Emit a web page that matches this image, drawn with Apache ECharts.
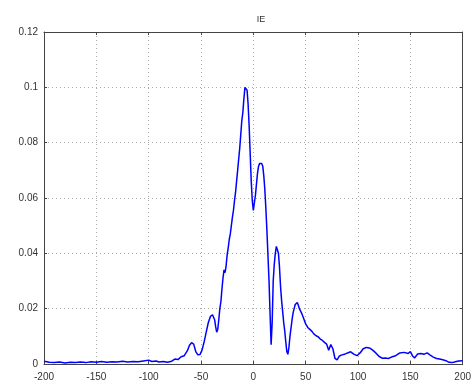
<!DOCTYPE html>
<html><head><meta charset="utf-8">
<script src="https://cdn.jsdelivr.net/npm/echarts@6/dist/echarts.min.js"></script>
<style>html,body{margin:0;padding:0;background:#fff}#c{width:474px;height:388px}</style>
</head><body><div id="c"></div>
<script>
const titleText = 'IE';
const xTicks = [-200, -150, -100, -50, 0, 50, 100, 150, 200];
const yTicks = [0, 0.02, 0.04, 0.06, 0.08, 0.1, 0.12];
const xs = [-200,-195,-190,-185,-180,-175,-170,-165,-160,-155,-150,-145,-140,-135,-130,-125,-120,-115,-110,-105,-100,-97,-93,-90,-86,-82,-78,-75,-72,-69,-66,-63,-61,-59,-57,-55,-53,-51,-49,-47,-45,-43,-41,-39,-37,-36,-35,-34,-33,-32,-31,-30,-29,-28,-27,-26,-25,-24,-23,-22,-21,-20,-19,-18,-17,-16,-15,-14,-13,-12,-11,-10,-9,-8,-7,-6,-5,-4,-3,-2,-1,0,1,2,3,4,5,6,7,8,9,10,11,12,13,14,15,16,17,18,19,20,21,22,23,24,25,26,27,28,29,30,31,32,33,34,35,36,37,38,39,40,41,42,43,44,46,48,50,52,54,56,58,60,62,64,66,68,70,72,74,76,78,80,82,84,87,90,93,96,99,102,105,108,111,114,117,120,123,126,129,132,136,140,144,148,150,152,154,157,160,163,166,169,172,175,178,181,184,187,190,193,196,200];
const ys = [0.0010,0.0006,0.0005,0.0007,0.0004,0.0006,0.0005,0.0007,0.0005,0.0008,0.0006,0.0009,0.0006,0.0008,0.0007,0.0010,0.0007,0.0009,0.0008,0.0011,0.0014,0.0009,0.0011,0.0007,0.0009,0.0006,0.0010,0.0018,0.0016,0.0026,0.0030,0.0048,0.0068,0.0077,0.0072,0.0045,0.0033,0.0034,0.0050,0.0080,0.0115,0.0150,0.0172,0.0178,0.0160,0.0135,0.0115,0.0125,0.0160,0.0200,0.0225,0.0270,0.0310,0.0340,0.0330,0.0355,0.0395,0.0420,0.0450,0.0470,0.0500,0.0530,0.0555,0.0590,0.0620,0.0660,0.0700,0.0740,0.0780,0.0830,0.0880,0.0910,0.0960,0.1000,0.1002,0.0990,0.0940,0.0860,0.0760,0.0660,0.0590,0.0555,0.0560,0.0610,0.0650,0.0690,0.0715,0.0725,0.0728,0.0725,0.0715,0.0680,0.0630,0.0560,0.0480,0.0390,0.0300,0.0180,0.0070,0.0150,0.0300,0.0360,0.0400,0.0425,0.0428,0.0400,0.0350,0.0280,0.0230,0.0190,0.0150,0.0120,0.0080,0.0045,0.0035,0.0060,0.0100,0.0130,0.0160,0.0185,0.0200,0.0215,0.0222,0.0222,0.0212,0.0200,0.0185,0.0165,0.0145,0.0132,0.0125,0.0118,0.0108,0.0102,0.0098,0.0090,0.0085,0.0078,0.0072,0.0050,0.0070,0.0055,0.0020,0.0015,0.0028,0.0032,0.0035,0.0040,0.0044,0.0036,0.0030,0.0040,0.0055,0.0060,0.0058,0.0050,0.0040,0.0028,0.0021,0.0022,0.0020,0.0025,0.0030,0.0040,0.0042,0.0038,0.0045,0.0030,0.0022,0.0036,0.0038,0.0035,0.0040,0.0032,0.0025,0.0020,0.0018,0.0015,0.0012,0.0006,0.0005,0.0008,0.0011,0.0012];

const chart = echarts.init(document.getElementById('c'), null, {renderer: 'canvas'});
const lbl = {fontFamily: 'Liberation Sans', fontSize: 10, color: '#333'};
const frameLine = {show: true, onZero: false, lineStyle: {color: '#444', width: 1}};
const tick = {show: true, inside: true, length: 3, lineStyle: {color: '#444'}};
const split = {show: true, lineStyle: {color: '#aaa', type: [1, 3], width: 1}};
chart.setOption({
  animation: false,
  backgroundColor: '#fff',
  title: {text: titleText, left: 256, top: 10, textAlign: 'center',
    textStyle: {fontFamily: 'Liberation Sans', fontSize: 9, fontWeight: 'normal', color: '#333'}},
  grid: {left: 44, right: 6, top: 32, bottom: 24, containLabel: false},
  xAxis: [
    {type: 'value', min: xTicks[0], max: xTicks[xTicks.length-1], interval: 50, position: 'bottom',
     axisLine: frameLine, axisTick: tick, splitLine: split,
     axisLabel: Object.assign({margin: 8, showMinLabel: true, showMaxLabel: true}, lbl)},
    {type: 'value', min: xTicks[0], max: xTicks[xTicks.length-1], interval: 50, position: 'top',
     axisLine: frameLine, axisTick: tick, splitLine: {show: false}, axisLabel: {show: false}}
  ],
  yAxis: [
    {type: 'value', min: yTicks[0], max: yTicks[yTicks.length-1], interval: 0.02, position: 'left',
     axisLine: frameLine, axisTick: tick, splitLine: split,
     axisLabel: Object.assign({margin: 6, formatter: v => String(+v.toFixed(2))}, lbl)},
    {type: 'value', min: yTicks[0], max: yTicks[yTicks.length-1], interval: 0.02, position: 'right',
     axisLine: frameLine, axisTick: tick, splitLine: {show: false}, axisLabel: {show: false}}
  ],
  series: [{
    type: 'line', xAxisIndex: 0, yAxisIndex: 0,
    data: xs.map((x, i) => [x, ys[i]]),
    showSymbol: false, symbol: 'none', smooth: false,
    lineStyle: {color: '#0000ff', width: 1.5}
  }]
});
</script></body></html>
